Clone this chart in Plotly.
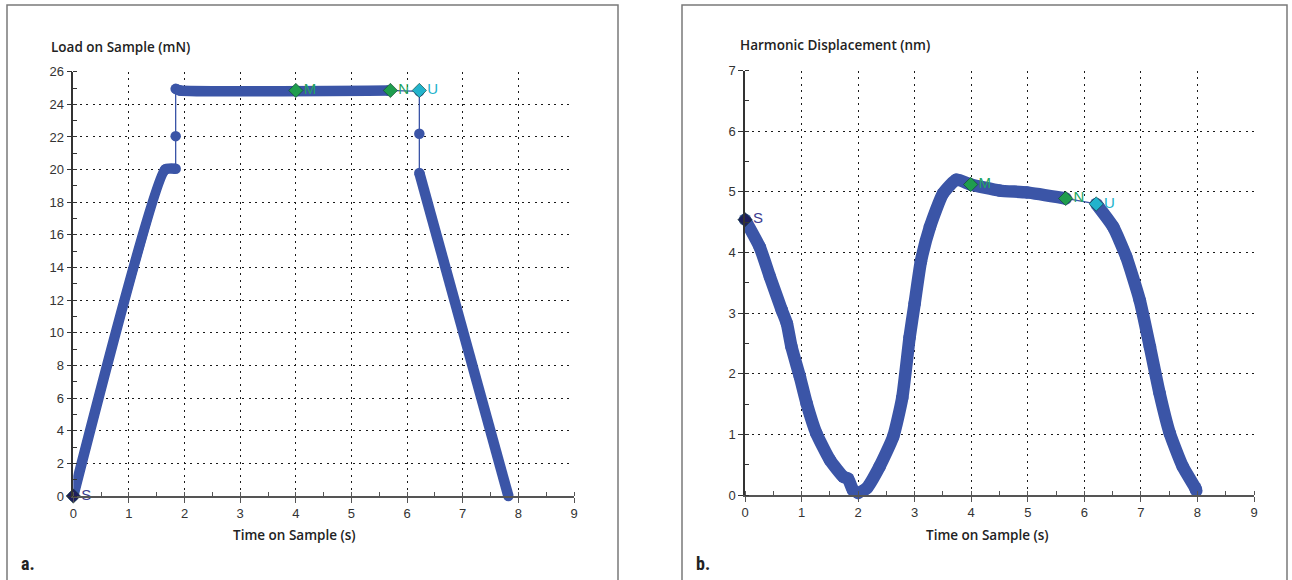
import plotly.graph_objects as go

# ---------------- data ----------------
# Panel a: Load on Sample (mN) vs Time on Sample (s)
load_t = [0.0, 1.65, 1.84, 1.84, 1.84, 1.92, 5.66, 6.22, 6.22, 6.22, 7.82]
load_v = [0.0, 20.0, 20.05, 22.05, 24.95, 24.85, 24.85, 24.8, 22.2, 19.8, 0.0]
load_thick_segments = [(0, 2), (4, 6), (9, 10)]  # dense-sampled parts (index ranges)

# Panel b: Harmonic Displacement (nm) vs Time on Sample (s)
disp_t = [0.0, 0.26, 0.44, 0.65, 0.74, 0.82, 0.97, 1.09, 1.26, 1.5, 1.74, 1.82, 1.91,
          2.0, 2.15, 2.38, 2.62, 2.78, 2.91, 3.0, 3.11, 3.27, 3.5, 3.74, 3.99, 4.5,
          4.98, 5.67, 6.21, 6.51, 6.74, 6.98, 7.16, 7.33, 7.51, 7.74, 7.96, 7.98]
disp_v = [4.54, 4.09, 3.6, 3.05, 2.83, 2.45, 1.95, 1.51, 1.02, 0.58, 0.3, 0.27, 0.08,
          0.03, 0.11, 0.47, 0.96, 1.6, 2.6, 3.16, 3.85, 4.42, 4.97, 5.2, 5.12, 5.02,
          4.99, 4.89, 4.8, 4.42, 3.93, 3.21, 2.44, 1.68, 1.02, 0.47, 0.12, 0.07]
disp_thick_segments = [(0, 27), (28, 37)]

# Segment markers (S, M, N, U)
mark_names = ["S", "M", "N", "U"]
load_mark_t = [0.0, 4.0, 5.7, 6.22]
load_mark_v = [0.0, 24.85, 24.85, 24.85]
disp_mark_t = [0.0, 3.99, 5.67, 6.21]
disp_mark_v = [4.54, 5.12, 4.89, 4.8]
mark_fill = ["#1d1d5e", "#1f9d4e", "#1f9d4e", "#22b3cc"]
mark_text = ["#3d3d8f", "#22a463", "#22a463", "#22b3cc"]

load_yticks = list(range(0, 27, 2))
disp_yticks = list(range(0, 8))
xticks = list(range(0, 10))

BLUE = "#3b55a7"

fig = go.Figure()


def add_curve(t, v, segs, xa, ya, width):
    # thin connecting line through all samples
    fig.add_trace(go.Scatter(x=t, y=v, mode="lines+markers", xaxis=xa, yaxis=ya,
                             line=dict(color=BLUE, width=1.3),
                             marker=dict(color=BLUE, size=width),
                             cliponaxis=False, showlegend=False, hoverinfo="skip"))
    for a, b in segs:
        fig.add_trace(go.Scatter(x=t[a:b + 1], y=v[a:b + 1], mode="lines", xaxis=xa, yaxis=ya,
                                 line=dict(color=BLUE, width=width, shape="spline", smoothing=0.5),
                                 cliponaxis=False, showlegend=False, hoverinfo="skip"))


def add_marks(t, v, xa, ya):
    fig.add_trace(go.Scatter(
        x=t, y=v, mode="markers+text", xaxis=xa, yaxis=ya,
        text=mark_names, textposition="middle right",
        textfont=dict(family="Liberation Sans", size=15, color=mark_text),
        marker=dict(symbol="diamond", size=11, color=mark_fill,
                    line=dict(color="#0f3f2a", width=0.6)),
        cliponaxis=False, showlegend=False, hoverinfo="skip"))


add_curve(load_t, load_v, load_thick_segments, "x", "y", 10.5)
add_marks(load_mark_t, load_mark_v, "x", "y")
add_curve(disp_t, disp_v, disp_thick_segments, "x2", "y2", 12.5)
add_marks(disp_mark_t, disp_mark_v, "x2", "y2")

W, H = 1292, 580


def px(x):
    return x / W


def py(y):
    return (H - y) / H


tickfont = dict(family="Liberation Sans", size=13, color="#333333")
GRID = dict(showgrid=True, gridcolor="#1a1a1a", gridwidth=1.3, griddash="2px,4.5px")


def xaxis_cfg(x0, x1, anchor):
    return dict(domain=[px(x0), px(x1)], range=[0, 9], tickvals=xticks, anchor=anchor,
                showline=True, linecolor="#555555", linewidth=1.5,
                ticks="outside", ticklen=5, tickcolor="#555555", tickwidth=1,
                minor=dict(dtick=0.5, ticks="inside", ticklen=4, tickcolor="#555555", showgrid=False),
                zeroline=False, tickfont=tickfont, fixedrange=True, automargin=False, **GRID)


def yaxis_cfg(y0, y1, rng, vals, mdt, anchor):
    return dict(domain=[py(y0), py(y1)], range=rng, tickvals=vals, anchor=anchor,
                showline=True, linecolor="#333333", linewidth=1.5,
                ticks="outside", ticklen=5, tickcolor="#333333", tickwidth=1,
                minor=dict(dtick=mdt, ticks="inside", ticklen=4, tickcolor="#333333", showgrid=False),
                zeroline=False, tickfont=tickfont, fixedrange=True, automargin=False, **GRID)


def label(text, x, y, size, xanchor="left", family="Open Sans", weight=600):
    return dict(text=text, xref="paper", yref="paper", x=px(x), y=py(y),
                xanchor=xanchor, yanchor="middle", showarrow=False,
                font=dict(family=family, size=size, color="#222222", weight=weight))


fig.update_layout(
    width=W, height=H,
    margin=dict(l=0, r=0, t=0, b=0, pad=0, autoexpand=False),
    paper_bgcolor="white", plot_bgcolor="white",
    hovermode=False,
    xaxis=xaxis_cfg(73.3, 574.0, "y"),
    yaxis=yaxis_cfg(496.0, 71.7, [0, 26], load_yticks, 1, "x"),
    xaxis2=xaxis_cfg(745.0, 1254.0, "y2"),
    yaxis2=yaxis_cfg(495.0, 70.5, [0, 7], disp_yticks, 0.5, "x2"),
    shapes=[
        dict(type="rect", xref="paper", yref="paper", x0=px(7), x1=px(618),
             y0=-0.05, y1=py(5), line=dict(color="#7a7a7a", width=1.5), layer="below"),
        dict(type="rect", xref="paper", yref="paper", x0=px(682), x1=px(1287),
             y0=-0.05, y1=py(5), line=dict(color="#7a7a7a", width=1.5), layer="below"),
    ],
    annotations=[
        label("Load on Sample (mN)", 49, 47, 13.5),
        label("Harmonic Displacement (nm)", 738, 45, 13.5),
        label("Time on Sample (s)", 294, 535, 13.5, xanchor="center"),
        label("Time on Sample (s)", 988, 535, 13.5, xanchor="center"),
        label("a.", 19, 563, 18, family="Roboto Condensed, Roboto", weight="bold"),
        label("b.", 694, 563, 18, family="Roboto Condensed, Roboto", weight="bold"),
    ],
)

# pin the figure to the window's top-left corner (no default page margin)
post = ("var gd=document.getElementById('{plot_id}');"
        "document.documentElement.style.overflow='hidden';"
        "document.body.style.margin='0';document.body.style.overflow='hidden';"
        "gd.style.position='fixed';gd.style.left='0px';gd.style.top='0px';")

fig.write_html("out.html", post_script=post, config={"displayModeBar": False})
